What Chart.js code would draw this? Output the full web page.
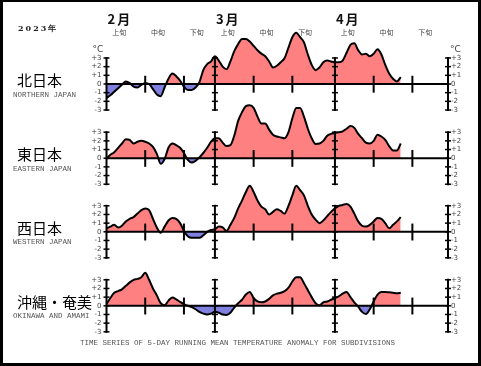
<!DOCTYPE html>
<html>
<head>
  <meta charset="UTF-8">
  <title>5-day running mean temperature anomaly</title>
  <script src="https://cdn.jsdelivr.net/npm/chart.js"></script>
  <style>
    html, body { margin: 0; padding: 0; background: #fff; }
    #page { position: relative; width: 481px; height: 366px; overflow: hidden; background: #fff; }
    #page canvas { position: absolute; left: 0; top: 0; }
    #frame { position: absolute; left: 0; top: 0; width: 481px; height: 366px; box-sizing: border-box; border: 3px solid #000; border-top-width: 2px; }
    .t { position: absolute; white-space: nowrap; line-height: 1; transform: translateY(-50%); }
    .year { font: bold 8px "DejaVu Serif", serif; letter-spacing: 2px; color: #222; }
    .month { font: bold 13px "Noto Sans CJK JP"; letter-spacing: 2px; color: #111; }
    .dekad { font: 7px "Noto Sans CJK JP"; color: #444; transform: translate(-50%, -50%); }
    .region { font: 15px "Noto Sans CJK JP"; color: #000; }
    .en { font: 7.5px "Liberation Mono", "DejaVu Sans Mono", monospace; color: #555; }
    .unit { font: 9px "DejaVu Sans", sans-serif; color: #444; }
  </style>
</head>
<body>
<div id="page">
  <canvas id="c0" width="481" height="366"></canvas>
  <canvas id="c1" width="481" height="366"></canvas>
  <canvas id="c2" width="481" height="366"></canvas>
  <canvas id="c3" width="481" height="366"></canvas>
  <div id="frame"></div>
</div>

<script>
// labels
const regionNames = ['北日本', '東日本', '西日本', '沖縄・奄美'];
const regionNamesEn = ['NORTHERN JAPAN', 'EASTERN JAPAN', 'WESTERN JAPAN', 'OKINAWA AND AMAMI'];
const monthLabels = ['2月', '3月', '4月'];
const monthStartDays = [0, 28, 59];          // days since Feb 1
const dekadLabels = ['上旬', '中旬', '下旬'];
const dekadStartDays = [0, 10, 20, 28, 38, 48, 59, 69, 79];
const axisTicks = [3, 2, 1, 0, -1, -2, -3];

// 5-day running mean anomaly (°C), one value per day from Feb 1
const northern = [-1.6, -1.3, -0.9, -0.5, -0.1, 0.3, 0.1, -0.3, -0.4, -0.1,
  0.1, 0.0, -0.6, -1.2, -1.4, -0.4, 0.6, 1.2, 0.9, 0.4,
  -0.3, -0.7, -0.7, -0.4, 0.2, 1.6, 2.3, 2.6, 3.2, 2.7,
  2.0, 1.7, 2.6, 3.8, 4.6, 5.2, 5.2, 4.9, 4.4, 3.9,
  3.5, 3.2, 2.6, 1.9, 2.1, 2.5, 3.0, 4.2, 5.4, 5.9,
  5.4, 4.8, 3.4, 2.2, 1.6, 1.9, 2.5, 2.7, 2.6, 2.5,
  2.5, 2.7, 3.6, 4.5, 4.7, 3.9, 3.4, 3.5, 3.2, 3.5,
  4.0, 3.4, 2.2, 1.2, 0.6, 0.3, 0.8];
const eastern = [0.0, 0.4, 0.7, 1.2, 1.7, 2.2, 2.1, 1.7, 1.9, 2.0,
  1.9, 1.7, 1.3, 0.5, -0.65, -0.1, 1.2, 1.7, 1.5, 1.2,
  0.6, -0.2, -0.5, -0.3, 0.1, 0.6, 1.2, 1.9, 2.3, 2.3,
  1.8, 1.4, 1.5, 2.6, 4.3, 5.3, 6.0, 6.1, 5.8, 4.8,
  4.0, 4.0, 3.3, 2.7, 2.5, 2.4, 2.3, 3.0, 4.6, 5.8,
  5.8, 4.8, 3.4, 2.3, 1.65, 1.7, 2.0, 2.6, 2.8, 2.9,
  3.0, 3.1, 3.4, 3.7, 3.5, 2.8, 2.3, 1.8, 1.7, 2.0,
  2.7, 2.5, 2.1, 1.4, 0.9, 0.9, 1.7];
const western = [0.4, 0.6, 0.8, 0.5, 0.7, 1.2, 1.5, 1.7, 2.1, 2.5,
  2.7, 2.5, 1.5, 0.5, -0.1, 0.6, 1.3, 1.6, 1.5, 1.0,
  0.1, -0.5, -0.7, -0.7, -0.7, -0.4, 0.0, 0.2, 0.3, 0.6,
  0.5, 0.1, 0.8, 1.6, 2.7, 3.6, 4.6, 5.3, 4.6, 3.6,
  2.9, 2.6, 2.0, 2.3, 2.6, 2.4, 2.1, 3.0, 4.2, 5.3,
  4.8, 4.2, 3.0, 2.0, 1.4, 1.0, 1.3, 1.8, 2.3, 2.7,
  3.0, 3.1, 3.2, 2.9, 2.1, 1.2, 0.7, 0.6, 0.8, 1.2,
  1.6, 1.5, 1.0, 0.4, 0.8, 1.2, 1.7];
const okinawa = [0.2, 0.9, 1.5, 1.7, 1.9, 2.3, 2.7, 3.0, 3.1, 3.3,
  3.8, 3.0, 2.0, 1.2, 0.3, 0.05, 0.6, 0.95, 0.75, 0.45,
  0.2, 0.0, -0.15, -0.4, -0.7, -0.9, -1.0, -0.9, -0.7, -0.8,
  -1.0, -1.05, -0.8, -0.2, 0.3, 0.7, 1.3, 1.6, 0.9, 0.5,
  0.4, 0.5, 0.8, 1.2, 1.4, 1.5, 1.7, 2.1, 2.8, 3.3,
  3.3, 2.6, 1.8, 1.0, 0.3, 0.05, 0.4, 0.5, 0.7, 0.9,
  1.1, 1.4, 1.6, 1.0, 0.4, -0.1, -0.7, -0.95, -0.4, 0.5,
  1.3, 1.6, 1.6, 1.55, 1.5, 1.45, 1.5];
const series = [northern, eastern, western, okinawa];

// layout
const pageW = 481, pageH = 366;
const plotLeft = 106.5, plotRight = 448;
const lastDay = 88.2;
const degPx = 8.67;
const zeroLines = [84, 158.2, 231.8, 305.8];

function seg(ctx, x1, y1, x2, y2) {
  ctx.beginPath();
  ctx.moveTo(x1, y1);
  ctx.lineTo(x2, y2);
  ctx.stroke();
}

// zero line, both axes with labels, month lines and dekad ticks
const panelFrame = {
  id: 'panelFrame',
  afterDatasetsDraw(chart) {
    const { ctx, chartArea, scales: { x, y } } = chart;
    const py = v => y.getPixelForValue(v);
    ctx.save();
    ctx.strokeStyle = '#000';
    ctx.lineWidth = 2;
    seg(ctx, chartArea.left, py(0), chartArea.right, py(0));
    [0, monthStartDays[1], monthStartDays[2], lastDay].forEach(d => {
      const px = x.getPixelForValue(d);
      ctx.lineWidth = 2;
      seg(ctx, px, py(3) - 1, px, py(-3) + 1);
      ctx.lineWidth = 1.5;
      axisTicks.forEach(v => seg(ctx, px - 3, py(v), px + 3, py(v)));
    });
    dekadStartDays.filter(d => monthStartDays.indexOf(d) < 0).forEach(d => {
      const px = x.getPixelForValue(d);
      ctx.lineWidth = 2;
      seg(ctx, px, py(0.95), px, py(-1));
    });

    ctx.fillStyle = '#444';
    ctx.font = '7px "DejaVu Sans"';
    ctx.textBaseline = 'middle';
    axisTicks.forEach(v => {
      const label = v > 0 ? '+' + v : String(v);
      ctx.textAlign = 'right';
      ctx.fillText(label, chartArea.left - 5, py(v));
      ctx.textAlign = 'left';
      ctx.fillText(label, chartArea.right + 3, py(v));
    });
    ctx.restore();
  }
};

const charts = series.map((vals, p) => new Chart(document.getElementById('c' + p), {
  type: 'line',
  data: {
    datasets: [{
      data: vals.map((v, i) => ({ x: i, y: v })),
      borderColor: '#000',
      borderWidth: 2,
      pointRadius: 0,
      cubicInterpolationMode: 'monotone',
      fill: { target: 'origin', above: '#ff8080', below: '#8080e0' }
    }]
  },
  options: {
    responsive: false,
    animation: false,
    events: [],
    layout: { padding: { left: plotLeft, right: pageW - plotRight, top: 0, bottom: 0 } },
    plugins: { legend: { display: false }, tooltip: { enabled: false } },
    scales: {
      x: { type: 'linear', min: 0, max: lastDay, display: false },
      y: { min: -(pageH - zeroLines[p]) / degPx, max: zeroLines[p] / degPx, display: false }
    }
  },
  plugins: [panelFrame]
}));

// text
const page = document.getElementById('page');
function addText(cls, text, left, top) {
  const el = document.createElement('div');
  el.className = 't ' + cls;
  el.textContent = text;
  el.style.left = left + 'px';
  el.style.top = top + 'px';
  page.insertBefore(el, document.getElementById('frame'));
  return el;
}

const xs = charts[0].scales.x;
addText('year', '2023年', 18, 28);
monthLabels.forEach((m, i) => addText('month', m, xs.getPixelForValue(monthStartDays[i]) + 1, 18));
dekadStartDays.forEach((d, i) => addText('dekad', dekadLabels[i % 3], xs.getPixelForValue(d + 3.3), 32));

const ys = charts[0].scales.y;
addText('unit', '°C', plotLeft - 14, ys.getPixelForValue(3) - 8.5);
addText('unit', '°C', plotRight + 2, ys.getPixelForValue(3) - 8.5);

regionNames.forEach((name, p) => {
  addText('region', name, 17, zeroLines[p] - 5);
  addText('en', regionNamesEn[p], 13, zeroLines[p] + 10.5);
});
addText('en', 'TIME SERIES OF 5-DAY RUNNING MEAN TEMPERATURE ANOMALY FOR SUBDIVISIONS', 80, 343);
</script>
</body>
</html>
